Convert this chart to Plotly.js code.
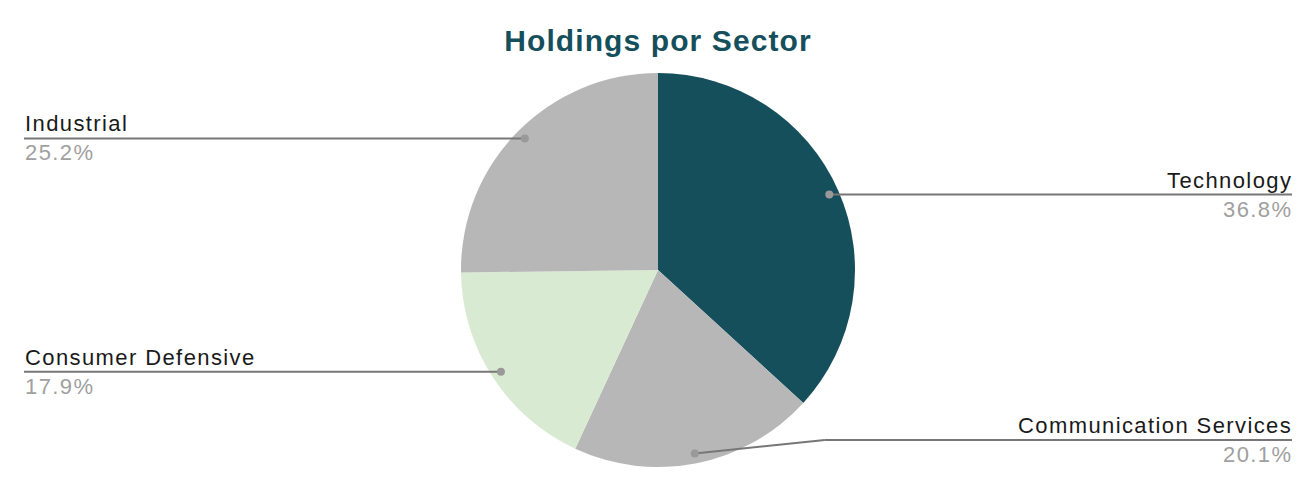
<!DOCTYPE html>
<html>
<head>
<meta charset="utf-8">
<script src="https://cdn.plot.ly/plotly-3.0.1.min.js"></script>
<style>html,body{margin:0;padding:0;background:#fff;}#chart{width:1316px;height:492px;}</style>
</head>
<body>
<div id="chart"></div>
<script>
const sectors = ["Technology", "Communication Services", "Consumer Defensive", "Industrial"];
const weights = [36.8, 20.1, 17.9, 25.2];
const colors = ["#164f5c", "#b7b7b7", "#d9ead3", "#b7b7b7"];

const W = 1316, H = 492;
const CX = 658, CY = 270, R = 197;
const px = x => x / W, py = y => 1 - y / H;
const spaced = (t, s) => '<span style="letter-spacing:' + s + 'px">' + t + '</span>';

const total = weights.reduce((a, b) => a + b, 0);
const shapes = [], annotations = [];
let cum = 0;
const FONT = "Liberation Sans, Arial, sans-serif";
weights.forEach((v, i) => {
  const mid = (cum + v / 2) / total * 2 * Math.PI;
  cum += v;
  const dx = CX + 0.95 * R * Math.sin(mid);
  const dy = CY - 0.95 * R * Math.cos(mid);
  const right = Math.sin(mid) > 0;
  const ly = Math.min(dy, 440);
  const xEnd = right ? 1292 : 24;
  if (ly !== dy) {
    const ex = dx + (right ? 130 : -130);
    shapes.push({type: "line", xref: "paper", yref: "paper", x0: px(dx), y0: py(dy), x1: px(ex), y1: py(ly), line: {color: "#777777", width: 2}});
    shapes.push({type: "line", xref: "paper", yref: "paper", x0: px(ex), y0: py(ly), x1: px(xEnd), y1: py(ly), line: {color: "#777777", width: 2}});
  } else {
    shapes.push({type: "line", xref: "paper", yref: "paper", x0: px(dx), y0: py(dy), x1: px(xEnd), y1: py(ly), line: {color: "#777777", width: 2}});
  }
  shapes.push({type: "circle", xref: "paper", yref: "paper", x0: px(dx - 4), x1: px(dx + 4), y0: py(dy + 4), y1: py(dy - 4), fillcolor: "#999999", line: {width: 0}});
  const shift = right ? 1.4 : 0;
  annotations.push({xref: "paper", yref: "paper", x: px(xEnd + shift), y: py(ly - 1), xanchor: right ? "right" : "left", yanchor: "bottom", showarrow: false, text: spaced(sectors[i], 1.4), font: {family: FONT, size: 22, color: "#1a1a1a"}, borderpad: 0});
  annotations.push({xref: "paper", yref: "paper", x: px(xEnd + shift), y: py(ly + 1), xanchor: right ? "right" : "left", yanchor: "top", showarrow: false, text: spaced((v / total * 100).toFixed(1) + "%", 1.4), font: {family: FONT, size: 22, color: "#a0a0a0"}, borderpad: 0});
});

const data = [{
  type: "pie",
  labels: sectors,
  values: weights,
  sort: false,
  direction: "clockwise",
  rotation: 0,
  textinfo: "none",
  hoverinfo: "label+percent",
  marker: {colors: colors, line: {width: 0}},
  domain: {x: [px(CX - R), px(CX + R)], y: [py(CY + R), py(CY - R)]},
  showlegend: false
}];

const layout = {
  width: W, height: H,
  margin: {l: 0, r: 0, t: 0, b: 0},
  paper_bgcolor: "#ffffff",
  title: {text: "<b>" + spaced("Holdings por Sector", 1.1) + "</b>", x: 0.5, xanchor: "center", y: 1 - 40 / H, yanchor: "middle", font: {family: FONT, size: 30, color: "#164f5c"}},
  shapes: shapes,
  annotations: annotations,
  showlegend: false
};
Plotly.newPlot("chart", data, layout, {displayModeBar: false});
</script>
</body>
</html>
